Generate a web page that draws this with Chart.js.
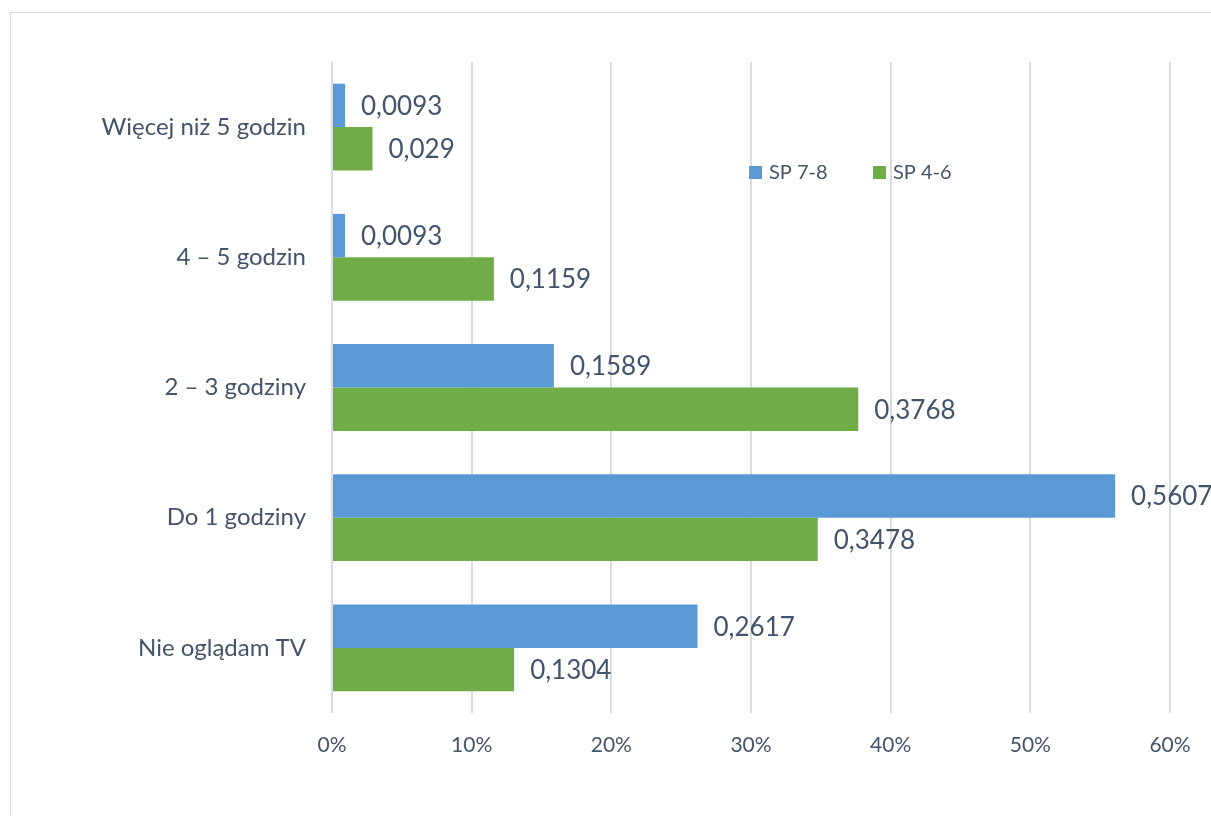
<!DOCTYPE html>
<html>
<head>
<meta charset="utf-8">
<script src="https://cdn.jsdelivr.net/npm/chart.js@4"></script>
<style>
  body { margin: 0; background: #fff; overflow: hidden; }
  #container { position: relative; width: 1211px; height: 816px; }
  #frame { position: absolute; left: 10px; top: 12px; width: 1300px; height: 900px; border: 1.5px solid #d9d9d9; }
  #chartcanvas { position: absolute; left: 0; top: 0; }
</style>
</head>
<body>
<div id="container"><div id="frame"></div></div>
<script>
var categories = ['Więcej niż 5 godzin', '4 – 5 godzin', '2 – 3 godziny', 'Do 1 godziny', 'Nie oglądam TV'];
var seriesNames = ['SP 7-8', 'SP 4-6'];
var sp78 = [0.0093, 0.0093, 0.1589, 0.5607, 0.2617];
var sp46 = [0.029, 0.1159, 0.3768, 0.3478, 0.1304];
var xTicks = [0, 0.1, 0.2, 0.3, 0.4, 0.5, 0.6];

var textColor = '#44546a';
var fontName = 'Lato, "Open Sans", sans-serif';

var chartCanvas = document.createElement('canvas');
chartCanvas.id = 'chartcanvas';
chartCanvas.width = 1211;
chartCanvas.height = 816;
document.getElementById('container').appendChild(chartCanvas);

// etykiety danych przy końcach słupków
var valueLabels = {
    id: 'valueLabels',
    afterDatasetsDraw: function (chart) {
        var c = chart.ctx;
        c.save();
        c.font = '26px ' + fontName;
        c.fillStyle = textColor;
        c.textAlign = 'left';
        c.textBaseline = 'middle';
        chart.data.datasets.forEach(function (ds, i) {
            chart.getDatasetMeta(i).data.forEach(function (bar, j) {
                c.fillText(String(ds.data[j]).replace('.', ','), bar.x + 16, bar.y + 1);
            });
        });
        c.restore();
    }
};

// legenda wewnątrz obszaru wykresu
var innerLegend = {
    id: 'innerLegend',
    afterDraw: function (chart) {
        var c = chart.ctx;
        var xs = [749, 873];
        c.save();
        c.font = '20px ' + fontName;
        c.textBaseline = 'middle';
        chart.data.datasets.forEach(function (ds, i) {
            c.fillStyle = ds.backgroundColor;
            c.fillRect(xs[i], 166, 13, 13);
            c.fillStyle = textColor;
            c.fillText(ds.label, xs[i] + 20, 173);
        });
        c.restore();
    }
};

var myChart = new Chart(chartCanvas, {
    type: 'bar',
    data: {
        labels: categories,
        datasets: [{
            label: seriesNames[0],
            data: sp78,
            backgroundColor: '#5b9bd5',
        }, {
            label: seriesNames[1],
            data: sp46,
            backgroundColor: '#70ad47',
        }],
    },
    options: {
        indexAxis: 'y',
        responsive: false,
        animation: false,
        categoryPercentage: 0.667,
        barPercentage: 1,
        layout: { padding: { top: 62, right: 41, left: 0, bottom: 0 } },
        plugins: {
            legend: { display: false },
            tooltip: { enabled: false },
        },
        scales: {
            x: {
                min: 0,
                max: 0.6,
                afterBuildTicks: function (scale) {
                    scale.ticks = xTicks.map(function (v) { return { value: v }; });
                },
                afterFit: function (scale) { scale.height = 103; },
                ticks: {
                    color: textColor,
                    font: { family: fontName, size: 21 },
                    padding: 20,
                    callback: function (v) { return Math.round(v * 100) + '%'; },
                },
                grid: { color: '#d9dde3', lineWidth: 2, drawTicks: false },
                border: { display: false },
            },
            y: {
                afterFit: function (scale) { scale.width = 332; },
                ticks: {
                    color: textColor,
                    font: { family: fontName, size: 24 },
                    padding: 26,
                },
                grid: { display: false, drawTicks: false },
                border: { display: false },
            },
        },
    },
    plugins: [valueLabels, innerLegend],
});
</script>
</body>
</html>
